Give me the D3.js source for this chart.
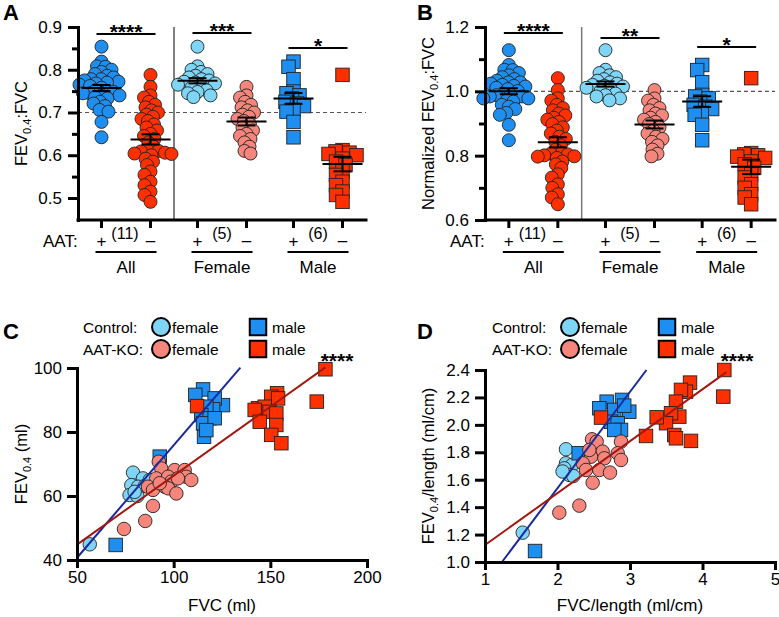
<!DOCTYPE html>
<html><head><meta charset="utf-8">
<script src="https://cdn.jsdelivr.net/npm/d3@7"></script>
<style>
body{margin:0;background:#fff}
svg{display:block}
text{font-family:"Liberation Sans",Arial,sans-serif;fill:#000}
</style>
</head><body>
<svg id="chart" width="779" height="617"></svg>
<script>
// ---------- DATA ----------
// Panel A: FEV0.4:FVC ratio
const femaleCtrl = [0.854,0.808,0.800,0.795,0.790,0.786,0.782,0.778,0.775,0.772,0.770,0.768,0.765,0.762,0.758,0.752,0.748,0.745,0.740,0.736];
const maleCtrl   = [0.819,0.807,0.778,0.749,0.745,0.740,0.733,0.725,0.721,0.715,0.706,0.702,0.678,0.642];
const femaleKO   = [0.760,0.740,0.735,0.725,0.718,0.712,0.705,0.700,0.695,0.690,0.685,0.680,0.672,0.665,0.658,0.650,0.645,0.638,0.630,0.620,0.610,0.604];
const maleKO     = [0.788,0.612,0.609,0.606,0.603,0.600,0.592,0.585,0.577,0.562,0.554,0.538,0.530,0.515,0.507,0.491];
// Panel B: normalized FEV0.4:FVC
const femaleCtrlNorm = [1.128,1.067,1.057,1.050,1.044,1.038,1.033,1.028,1.024,1.020,1.017,1.015,1.011,1.007,1.001,0.993,0.988,0.984,0.978,0.972];
const maleCtrlNorm   = [1.082,1.066,1.028,0.989,0.984,0.978,0.968,0.958,0.952,0.945,0.933,0.927,0.896,0.848];
const femaleKONorm   = [1.004,0.978,0.971,0.958,0.948,0.941,0.931,0.925,0.918,0.912,0.905,0.898,0.888,0.878,0.869,0.859,0.852,0.843,0.832,0.819,0.806,0.798];
const maleKONorm     = [1.041,0.808,0.804,0.801,0.797,0.793,0.782,0.773,0.762,0.742,0.732,0.711,0.700,0.680,0.670,0.649];

const groups = ["All","Female","Male"];
const groupN = ["(11)","(5)","(6)"];
const aatSigns = ["+","\u2013"];
const ratioTicks = [0.5,0.6,0.7,0.8,0.9];
const ratioMinor = [0.55,0.65,0.75,0.85];
const normTicks = [0.6,0.8,1.0,1.2];
const normMinor = [0.7,0.9,1.1];
const sigA = [{label:"****", y:0.8836},{label:"***", y:0.886},{label:"*", y:0.851}];
const sigB = [{label:"****", y:1.181},{label:"**", y:1.166},{label:"*", y:1.138}];

// Panel C: [FVC (ml), FEV0.4 (ml)]
const cCtrlFemale = [[79.0,67.3],[84.1,65.5],[78.1,63.4],[81.6,62.9],[85.0,63.1],[77.2,60.3],[81.2,60.0],[79.8,61.3],[87.6,65.0],[56.6,44.9]];
const cCtrlMale = [[115.2,93.3],[111.2,91.6],[125.5,88.4],[121.2,90.5],[120.4,87.1],[116.9,87.9],[114.3,85.3],[118.6,84.3],[115.2,82.7],[121.2,84.3],[115.7,78.5],[116.9,80.6],[92.8,72.3],[70.0,44.7]];
const cKOFemale = [[92.3,70.7],[93.6,68.6],[100.5,68.1],[105.7,68.1],[106.5,66.0],[109.1,65.0],[91.0,65.5],[97.1,66.0],[98.8,64.5],[102.2,65.5],[86.7,62.9],[89.3,61.9],[95.4,62.9],[97.1,62.4],[101.4,60.8],[92.8,64.0],[89.3,56.9],[85.3,52.2],[74.3,49.7]];
const cKOMale = [[178.5,99.6],[174.0,89.5],[112.1,88.1],[153.5,92.1],[150.5,91.0],[154.0,90.5],[143.6,87.4],[147.1,87.9],[149.6,86.3],[153.1,85.8],[141.9,86.9],[144.5,83.2],[153.1,82.2],[150.5,79.1],[155.7,76.5]];
const cFits = [{grp:"ctrl", slope:0.703, intercept:5.55, x0:50, x1:134.5},{grp:"ko", slope:0.431, intercept:23.25, x0:50, x1:178.5}];
const cXTicks = [50,100,150,200];
const cYTicks = [40,60,80,100];

// Panel D: [FVC/length, FEV0.4/length] (ml/cm)
const dCtrlFemale = [[2.117,1.822],[2.117,1.720],[2.200,1.707],[2.094,1.683],[2.163,1.635],[2.218,1.627],[2.07,1.66],[1.520,1.214]];
const dCtrlMale = [[2.678,2.169],[2.890,2.182],[2.577,2.121],[2.783,2.109],[2.990,2.096],[2.92,2.14],[2.738,2.023],[2.830,2.012],[2.876,1.963],[2.783,1.963],[2.292,1.793],[1.690,1.080]];
const dKOFemale = [[2.476,1.895],[2.540,1.878],[2.876,1.878],[2.623,1.805],[2.830,1.793],[2.876,1.744],[2.462,1.768],[2.646,1.756],[2.348,1.720],[2.393,1.671],[2.577,1.671],[2.724,1.652],[2.485,1.578],[2.439,1.817],[2.301,1.411],[2.025,1.360]];
const dKOMale = [[4.301,2.400],[4.287,2.206],[3.828,2.308],[3.772,2.242],[3.703,2.255],[3.634,2.169],[3.680,2.060],[3.566,2.085],[3.497,2.012],[3.368,2.055],[3.221,1.919],[3.611,1.926],[3.634,1.902],[3.841,1.883],[2.600,2.053]];
const dFits = [{grp:"ctrl", slope:0.7025, intercept:0.133, x0:1.234, x1:3.227},{grp:"ko", slope:0.3787, intercept:0.745, x0:1, x1:4.33}];
const dXTicks = [1,2,3,4,5];
const dYTicks = [1.0,1.2,1.4,1.6,1.8,2.0,2.2,2.4];

// ---------- STYLE ----------
const COL = {blue:"#1e8ff0", cyan:"#7fd5f6", red:"#ff3000", pink:"#f6867b", lineBlue:"#1a2a9e", lineRed:"#a3170f"};
const FONT = '"Liberation Sans", Arial, sans-serif';
const svg = d3.select("#chart");

function styleAxis(g, fs){
  g.attr("font-family", FONT).attr("font-size", fs);
  g.select("path.domain").attr("stroke","#000").attr("stroke-width",3).attr("stroke-linecap","square");
  g.selectAll(".tick line").attr("stroke","#000").attr("stroke-width",3);
  g.selectAll(".tick text").attr("fill","#000");
}

function swarm(values, yS, cx, minDist){
  const pts = values.map(v=>({v, y:yS(v)})).sort((a,b)=>a.y-b.y);
  const placed = [];
  for (const p of pts){
    let off = 0;
    for (let k=0;k<400;k++){
      const o = (k%2===0?1:-1)*Math.ceil(k/2)*0.5;
      if (placed.every(q => (q.x-o)*(q.x-o)+(q.y-p.y)*(q.y-p.y) >= minDist*minDist)){ off=o; break; }
    }
    p.x = off; placed.push(p);
  }
  return placed.map(p=>({v:p.v, x:cx+p.x, y:p.y}));
}

function drawMarker(g, x, y, shape, fill, size, sw, stroke){
  if (shape==="circle"){
    g.append("circle").attr("cx",x).attr("cy",y).attr("r",size/2).attr("fill",fill).attr("stroke",stroke||"#222").attr("stroke-width",sw);
  } else {
    g.append("rect").attr("x",x-size/2).attr("y",y-size/2).attr("width",size).attr("height",size).attr("fill",fill).attr("stroke",stroke||"#222").attr("stroke-width",sw);
  }
}

// ---------- DOT PLOT PANELS ----------
function dotPanel(opt){
  const g = svg.append("g");
  const y = d3.scaleLinear().domain(opt.domain).range([220,27]);
  const xG = d3.scaleBand().domain(groups).range([opt.x0, opt.x1]);
  const xS = d3.scalePoint().domain(aatSigns).range([-24.5,24.5]);
  const colX = (gi,si)=> xG(groups[gi]) + xG.bandwidth()/2 + xS(aatSigns[si]);

  g.append("line").attr("x1",opt.x0).attr("x2",opt.x1).attr("y1",y(opt.ref)).attr("y2",y(opt.ref))
    .attr("stroke","#555").attr("stroke-width",1.2).attr("stroke-dasharray","4,3");
  g.append("line").attr("x1",xG("Female")).attr("x2",xG("Female")).attr("y1",y(opt.domain[1])).attr("y2",220)
    .attr("stroke",opt.sepColor).attr("stroke-width",opt.sepWidth);

  const cols = [
    {vals:opt.data.fc.concat(opt.data.mc), fill:COL.blue, shape:"circle"},
    {vals:opt.data.fk.concat(opt.data.mk), fill:COL.red, shape:"circle"},
    {vals:opt.data.fc, fill:COL.cyan, shape:"circle"},
    {vals:opt.data.fk, fill:COL.pink, shape:"circle"},
    {vals:opt.data.mc, fill:COL.blue, shape:"square"},
    {vals:opt.data.mk, fill:COL.red, shape:"square"}
  ];
  cols.forEach((c,i)=>{
    const cx = colX(Math.floor(i/2), i%2);
    const pts = swarm(c.vals, y, cx, c.shape==="circle"?6.5:7);
    const pg = g.append("g");
    pts.forEach(p=>drawMarker(pg, p.x, p.y, c.shape, c.fill, c.shape==="circle"?13:13.5, 0.9));
    const m = d3.mean(c.vals), sem = d3.deviation(c.vals)/Math.sqrt(c.vals.length);
    const mg = g.append("g").attr("stroke","#000").attr("stroke-width",2);
    mg.append("line").attr("x1",cx-20).attr("x2",cx+20).attr("y1",y(m)).attr("y2",y(m));
    mg.append("line").attr("x1",cx).attr("x2",cx).attr("y1",y(m+sem)).attr("y2",y(m-sem));
    mg.append("line").attr("x1",cx-9).attr("x2",cx+9).attr("y1",y(m+sem)).attr("y2",y(m+sem));
    mg.append("line").attr("x1",cx-9).attr("x2",cx+9).attr("y1",y(m-sem)).attr("y2",y(m-sem));
    g.append("line").attr("x1",cx).attr("x2",cx).attr("y1",220).attr("y2",228).attr("stroke","#000").attr("stroke-width",3);
    g.append("text").attr("x",cx).attr("y",i%2===0?247:246).attr("text-anchor","middle").attr("font-size",17).text(aatSigns[i%2]);
  });

  const ax = g.append("g").attr("transform",`translate(${opt.x0},0)`)
    .call(d3.axisLeft(y).tickValues(opt.ticks).tickFormat(d3.format(".1f")).tickSize(10).tickPadding(6).tickSizeOuter(0));
  styleAxis(ax, 17);
  const axm = g.append("g").attr("transform",`translate(${opt.x0},0)`)
    .call(d3.axisLeft(y).tickValues(opt.minor).tickFormat("").tickSize(6).tickSizeOuter(0));
  styleAxis(axm, 17);
  axm.select("path.domain").remove();
  g.append("line").attr("x1",opt.x0).attr("x2",opt.x1).attr("y1",220).attr("y2",220).attr("stroke","#000").attr("stroke-width",3).attr("stroke-linecap","square");

  groups.forEach((gr,gi)=>{
    const c = xG(gr)+xG.bandwidth()/2;
    g.append("line").attr("x1",c-30.5).attr("x2",c+30.5).attr("y1",252).attr("y2",252).attr("stroke","#000").attr("stroke-width",2);
    g.append("text").attr("x",c).attr("y",273).attr("text-anchor","middle").attr("font-size",17).text(gr);
    g.append("text").attr("x",c-(gi===0?1:0)).attr("y",239).attr("text-anchor","middle").attr("font-size",16).text(groupN[gi]);
    const s = opt.sig[gi];
    g.append("line").attr("x1",c-29.5).attr("x2",c+29.5).attr("y1",y(s.y)).attr("y2",y(s.y)).attr("stroke","#000").attr("stroke-width",2);
    g.append("text").attr("x",c).attr("y",y(s.y)+5).attr("text-anchor","middle").attr("font-size",21).attr("font-weight","bold").text(s.label);
  });
  g.append("text").attr("x",opt.x0-35).attr("y",247).attr("font-size",17).text("AAT:");

  const yl = g.append("text").attr("transform",`translate(${opt.ylabX},123.5) rotate(-90)`).attr("text-anchor","middle").attr("font-size",16.5);
  if (opt.prefix) yl.append("tspan").text(opt.prefix);
  yl.append("tspan").text("FEV");
  yl.append("tspan").attr("font-size",11).attr("dy",4).text("0.4");
  yl.append("tspan").attr("dy",-4).text(":FVC");

  svg.append("text").attr("x",opt.letterX).attr("y",20).attr("font-size",22).attr("font-weight","bold").text(opt.letter);
}

dotPanel({x0:78, x1:366, domain:[0.4485,0.9], ticks:ratioTicks, minor:ratioMinor, ref:0.7,
  data:{fc:femaleCtrl, mc:maleCtrl, fk:femaleKO, mk:maleKO}, sig:sigA, sepColor:"#000", sepWidth:1,
  ylabX:27, letter:"A", letterX:3});
dotPanel({x0:485, x1:775, domain:[0.6,1.2], ticks:normTicks, minor:normMinor, ref:1.0,
  data:{fc:femaleCtrlNorm, mc:maleCtrlNorm, fk:femaleKONorm, mk:maleKONorm}, sig:sigB, sepColor:"#777", sepWidth:1.5,
  ylabX:434, prefix:"Normalized ", letter:"B", letterX:417});

// ---------- SCATTER PANELS ----------
function scatterPanel(opt){
  const g = svg.append("g");
  const x = d3.scaleLinear().domain(opt.xDom).range([opt.x0, opt.x1]);
  const y = d3.scaleLinear().domain(opt.yDom).range([opt.yB, opt.yT]);
  const sets = [
    {d:opt.cf, fill:COL.cyan, shape:"circle"},
    {d:opt.cm, fill:COL.blue, shape:"square"},
    {d:opt.kf, fill:COL.pink, shape:"circle"},
    {d:opt.km, fill:COL.red, shape:"square"}
  ];
  sets.forEach(s=>{
    const pg = g.append("g");
    s.d.forEach(p=>drawMarker(pg, x(p[0]), y(p[1]), s.shape, s.fill, 13.5, 0.9));
  });
  opt.fits.forEach(f=>{
    g.append("line").attr("x1",x(f.x0)).attr("y1",y(f.slope*f.x0+f.intercept))
      .attr("x2",x(f.x1)).attr("y2",y(f.slope*f.x1+f.intercept))
      .attr("stroke", f.grp==="ctrl"?COL.lineBlue:COL.lineRed).attr("stroke-width",2);
  });
  const ay = g.append("g").attr("transform",`translate(${opt.x0},0)`)
    .call(d3.axisLeft(y).tickValues(opt.yTicks).tickFormat(opt.yFmt).tickSize(10).tickPadding(5).tickSizeOuter(0));
  styleAxis(ay, 17);
  const axx = g.append("g").attr("transform",`translate(0,${opt.yB})`)
    .call(d3.axisBottom(x).tickValues(opt.xTicks).tickFormat(opt.xFmt).tickSize(8).tickPadding(3).tickSizeOuter(0));
  styleAxis(axx, 17);
  g.append("text").attr("x",(opt.x0+opt.x1)/2).attr("y",611).attr("text-anchor","middle").attr("font-size",17).text(opt.xLabel);
  const yl = g.append("text").attr("transform",`translate(${opt.ylabX},${(opt.yB+opt.yT)/2}) rotate(-90)`).attr("text-anchor","middle").attr("font-size",16.5);
  yl.append("tspan").text("FEV");
  yl.append("tspan").attr("font-size",11).attr("dy",4).text("0.4");
  yl.append("tspan").attr("dy",-4).text(opt.ySuffix);
  g.append("text").attr("x",opt.starX).attr("y",368).attr("text-anchor","middle").attr("font-size",21).attr("font-weight","bold").text("****");
  const L = opt.legX;
  const lg = g.append("g").attr("font-size",15.5);
  lg.append("text").attr("x",L).attr("y",332.5).text("Control:");
  lg.append("text").attr("x",L).attr("y",354.5).text("AAT-KO:");
  drawMarker(lg, L+78, 327, "circle", COL.cyan, 18, 2, "#000");
  drawMarker(lg, L+78, 349, "circle", COL.pink, 18, 2, "#000");
  lg.append("text").attr("x",L+89).attr("y",332.5).text("female");
  lg.append("text").attr("x",L+89).attr("y",354.5).text("female");
  drawMarker(lg, L+175, 327, "square", COL.blue, 16.5, 2, "#000");
  drawMarker(lg, L+175, 349, "square", COL.red, 16.5, 2, "#000");
  lg.append("text").attr("x",L+189).attr("y",332.5).text("male");
  lg.append("text").attr("x",L+189).attr("y",354.5).text("male");

  svg.append("text").attr("x",opt.letterX).attr("y",339).attr("font-size",22).attr("font-weight","bold").text(opt.letter);
}

scatterPanel({x0:77, x1:367, yB:560, yT:368, xDom:[50,200], yDom:[40,100],
  cf:cCtrlFemale, cm:cCtrlMale, kf:cKOFemale, km:cKOMale, fits:cFits,
  xTicks:cXTicks, yTicks:cYTicks, xFmt:d3.format("d"), yFmt:d3.format("d"),
  xLabel:"FVC (ml)", ySuffix:" (ml)", ylabX:27, starX:337, legX:83, letter:"C", letterX:3});
scatterPanel({x0:485, x1:775, yB:562, yT:370, xDom:[1,5], yDom:[1.0,2.4],
  cf:dCtrlFemale, cm:dCtrlMale, kf:dKOFemale, km:dKOMale, fits:dFits,
  xTicks:dXTicks, yTicks:dYTicks, xFmt:d3.format("d"), yFmt:d3.format(".1f"),
  xLabel:"FVC/length (ml/cm)", ySuffix:"/length (ml/cm)", ylabX:434, starX:737, legX:492, letter:"D", letterX:417});
</script>
</body></html>
